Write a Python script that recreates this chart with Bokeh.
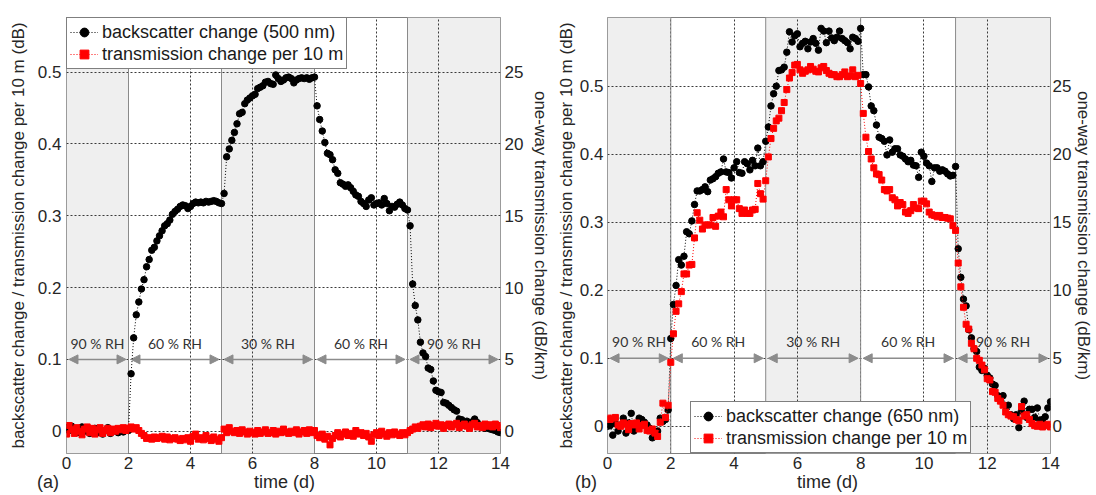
import numpy as np
from bokeh.plotting import figure
from bokeh.layouts import row
from bokeh.models import (ColumnDataSource, Range1d, LinearAxis, FixedTicker,
                          BoxAnnotation, Span, Arrow, NormalHead)
from bokeh.core.properties import value
from bokeh.embed import file_html
from bokeh.resources import INLINE

# ---------------- data ----------------
samples_per_day = 12
n_samples = 169
time_d = [i / samples_per_day for i in range(n_samples)]

rh_bounds = [0, 2, 5, 8, 11, 14]
rh_labels = ["90 % RH", "60 % RH", "30 % RH", "60 % RH", "90 % RH"]
rh_shaded = [True, False, True, False, True]

x_ticks = [0, 2, 4, 6, 8, 10, 12, 14]
y_ticks = [0, 0.1, 0.2, 0.3, 0.4, 0.5]
y2_ticks = [0, 5, 10, 15, 20, 25]
db_per_km_factor = 50  # 0.5 dB per 10 m  <->  25 dB/km

x_label = "time (d)"
y_label = "backscatter change / transmission change per 10 m (dB)"
y2_label = "one-way transmission change (dB/km)"

# panel (a): 500 nm
bs_500nm = (
    [0.005, 0.001, 0.007, 0.003, -0.002, 0.004, 0.006, 0.000, 0.005, -0.003, 0.002, 0.004, -0.002,
     0.003, -0.004, 0.001, 0.005, -0.003, 0.000, 0.002, -0.002, 0.003, -0.001, 0.002, 0.001]
    + [0.080, 0.130, 0.162, 0.180, 0.198, 0.211, 0.229, 0.239, 0.252, 0.256,
       0.265, 0.272, 0.279, 0.286, 0.289, 0.294, 0.302, 0.306, 0.309, 0.313,
       0.315, 0.314, 0.310, 0.313, 0.317, 0.319, 0.318, 0.319, 0.318, 0.320,
       0.319, 0.320, 0.321, 0.320, 0.318, 0.317]
    + [0.331, 0.382, 0.393, 0.405, 0.416, 0.428, 0.442, 0.444, 0.456, 0.461,
       0.464, 0.467, 0.469, 0.477, 0.479, 0.481, 0.486, 0.487, 0.484, 0.483,
       0.496, 0.491, 0.487, 0.489, 0.492, 0.493, 0.491, 0.485, 0.489, 0.491,
       0.492, 0.491, 0.492, 0.490, 0.492, 0.493]
    + [0.453, 0.434, 0.418, 0.402, 0.387, 0.385, 0.378, 0.364, 0.359, 0.346,
       0.344, 0.341, 0.343, 0.339, 0.334, 0.329, 0.327, 0.320, 0.317, 0.313,
       0.322, 0.325, 0.315, 0.317, 0.318, 0.315, 0.324, 0.317, 0.307, 0.313,
       0.312, 0.316, 0.319, 0.315, 0.310, 0.308]
    + [0.286, 0.205, 0.175, 0.155, 0.124, 0.109, 0.104, 0.088, 0.086, 0.070,
       0.057, 0.055, 0.054, 0.040, 0.039, 0.036, 0.033, 0.030, 0.028, 0.017,
       0.016, 0.012, 0.014, 0.011, 0.013, 0.017, 0.012, 0.008, 0.006, 0.004,
       0.005, 0.003, 0.002, 0.001, -0.001, -0.002]
)
tr_500nm = (
    [-0.004, 0.008, 0.002, -0.003, 0.005, 0.000, -0.005, 0.003, 0.006, -0.002, 0.004, -0.004, 0.002,
     0.005, -0.003, 0.001, 0.004, -0.002, 0.003, 0.000, 0.004, 0.002, 0.005, 0.001, 0.004]
    + [0.006, 0.003, 0.005, 0.001, -0.003, -0.006, -0.010, -0.009, -0.011, -0.008,
       -0.010, -0.009, -0.007, -0.011, -0.008, -0.012, -0.010, -0.009, -0.011, -0.013,
       -0.010, -0.012, -0.009, -0.014, -0.007, -0.004, -0.011, -0.009, -0.012, -0.006,
       -0.010, -0.013, -0.008, -0.011, -0.014, -0.009]
    + [0.003, -0.002, 0.005, 0.000, -0.002, 0.001, -0.003, 0.002, -0.001, -0.004,
       0.000, -0.002, -0.004, 0.001, -0.003, -0.001, 0.002, -0.003, -0.002, 0.001,
       -0.004, 0.000, -0.002, 0.003, -0.001, -0.003, 0.000, -0.002, 0.002, -0.004,
       -0.001, 0.001, -0.003, 0.002, -0.002, 0.001]
    + [-0.006, -0.009, -0.004, -0.011, -0.007, -0.019, -0.010, -0.006, -0.002, -0.008,
       -0.004, -0.001, -0.006, -0.003, -0.007, 0.001, -0.004, -0.002, -0.006, -0.003,
       -0.008, -0.014, -0.005, -0.002, -0.006, 0.000, -0.004, -0.007, -0.002, -0.005,
       -0.001, -0.004, -0.006, -0.002, -0.005, -0.002]
    + [0.001, 0.003, 0.006, 0.004, 0.007, 0.009, 0.006, 0.010, 0.005, 0.008,
       0.011, 0.007, 0.009, 0.004, 0.008, 0.010, 0.006, 0.009, 0.011, 0.005,
       0.008, 0.010, 0.007, 0.004, 0.009, 0.011, 0.006, 0.008, 0.005, 0.010,
       0.007, 0.009, 0.006, 0.010, 0.008, 0.005]
)

# panel (b): 650 nm
bs_650nm = (
    [0.000, 0.001, -0.013, 0.004, -0.007, 0.002, 0.012, -0.010, 0.005, 0.019, -0.007, -0.003, 0.012,
     0.010, 0.006, 0.002, -0.003, -0.017, -0.010, -0.007, 0.012, 0.007, 0.010, 0.024, 0.129]
    + [0.179, 0.207, 0.245, 0.237, 0.250, 0.286, 0.283, 0.302, 0.326, 0.346,
       0.346, 0.348, 0.352, 0.345, 0.362, 0.364, 0.367, 0.372, 0.374, 0.393,
       0.374, 0.373, 0.365, 0.380, 0.389, 0.373, 0.372, 0.389, 0.386, 0.377,
       0.391, 0.383, 0.409, 0.383, 0.389, 0.419]
    + [0.440, 0.471, 0.489, 0.500, 0.523, 0.524, 0.528, 0.550, 0.580, 0.565,
       0.574, 0.577, 0.558, 0.563, 0.566, 0.555, 0.565, 0.570, 0.563, 0.553,
       0.585, 0.581, 0.564, 0.581, 0.571, 0.567, 0.572, 0.581, 0.570, 0.567,
       0.564, 0.555, 0.572, 0.570, 0.566, 0.585]
    + [0.517, 0.517, 0.499, 0.471, 0.464, 0.443, 0.425, 0.423, 0.419, 0.399,
       0.421, 0.403, 0.408, 0.408, 0.399, 0.397, 0.393, 0.389, 0.391, 0.384,
       0.383, 0.366, 0.403, 0.397, 0.387, 0.383, 0.360, 0.380, 0.380, 0.375,
       0.377, 0.375, 0.371, 0.368, 0.369, 0.382]
    + [0.261, 0.219, 0.187, 0.177, 0.142, 0.130, 0.114, 0.110, 0.087, 0.082,
       0.085, 0.075, 0.071, 0.062, 0.060, 0.045, 0.039, 0.045, 0.030, 0.031,
       0.017, 0.011, 0.017, -0.002, 0.023, 0.037, 0.013, 0.025, 0.025, 0.013,
       0.027, 0.009, 0.010, 0.014, 0.027, 0.036]
)
tr_650nm = (
    [0.012, 0.010, 0.012, 0.013, 0.002, 0.000, 0.005, 0.003, -0.005, 0.004, 0.002, 0.005, -0.004,
     0.001, 0.003, -0.006, -0.007, -0.004, -0.010, -0.015, 0.006, 0.034, 0.013, 0.031, 0.094]
    + [0.136, 0.169, 0.180, 0.198, 0.224, 0.224, 0.237, 0.238, 0.277, 0.314,
       0.303, 0.290, 0.296, 0.296, 0.296, 0.307, 0.294, 0.309, 0.315, 0.308,
       0.348, 0.333, 0.324, 0.333, 0.333, 0.320, 0.313, 0.318, 0.313, 0.313,
       0.318, 0.319, 0.357, 0.342, 0.334, 0.361]
    + [0.396, 0.423, 0.438, 0.449, 0.453, 0.464, 0.476, 0.495, 0.512, 0.520,
       0.531, 0.532, 0.524, 0.519, 0.522, 0.524, 0.529, 0.525, 0.522, 0.521,
       0.527, 0.529, 0.523, 0.519, 0.517, 0.517, 0.514, 0.514, 0.517, 0.521,
       0.514, 0.515, 0.524, 0.514, 0.516, 0.504]
    + [0.460, 0.425, 0.404, 0.393, 0.380, 0.371, 0.370, 0.362, 0.348, 0.346,
       0.348, 0.336, 0.333, 0.324, 0.329, 0.326, 0.315, 0.313, 0.317, 0.326,
       0.321, 0.320, 0.331, 0.331, 0.327, 0.315, 0.311, 0.310, 0.308, 0.310,
       0.307, 0.307, 0.306, 0.305, 0.295, 0.288]
    + [0.240, 0.205, 0.175, 0.150, 0.143, 0.122, 0.114, 0.100, 0.097, 0.090,
       0.083, 0.070, 0.068, 0.051, 0.050, 0.041, 0.037, 0.031, 0.021, 0.017,
       0.015, 0.014, 0.010, 0.008, 0.029, 0.015, 0.017, 0.010, 0.004, 0.001,
       0.000, 0.003, -0.001, 0.001, 0.003, -0.001]
)

FONT = "Liberation Sans"
TICK_COLOR = "#262626"
NBSP = "\u00a0"


def make_panel(bs, tr, bs_label, tr_label, y_lo, y_hi, width, borders, stand,
               legend_loc, tag, tag_gap, rh_text_y):
    left_b, right_b, top_b, bottom_b = borders
    p = figure(width=width, height=495, x_range=Range1d(0, 14),
               y_range=Range1d(y_lo, y_hi), output_backend="svg",
               toolbar_location=None, min_border_left=left_b,
               min_border_right=right_b, min_border_top=top_b,
               min_border_bottom=bottom_b)
    p.background_fill_color = "white"
    p.border_fill_color = "white"
    p.outline_line_color = "#7f7f7f"
    p.outline_line_width = 1

    # shaded RH bands and boundaries
    for i in range(len(rh_labels)):
        if rh_shaded[i]:
            p.add_layout(BoxAnnotation(left=rh_bounds[i], right=rh_bounds[i + 1],
                                       fill_color="#efefef", fill_alpha=1.0,
                                       line_color=None, level="image"))
    for b in rh_bounds[1:-1]:
        p.add_layout(Span(location=b, dimension="height", line_color="#8a8a8a",
                          line_width=1, level="underlay"))

    # grid
    p.xgrid.ticker = FixedTicker(ticks=x_ticks)
    p.ygrid.ticker = FixedTicker(ticks=y_ticks)
    for g in (p.xgrid, p.ygrid):
        g.grid_line_color = "#3a3a3a"
        g.grid_line_dash = "2 2"
        g.grid_line_width = 1
        g.level = "underlay"

    # axes ; the panel tag shares the line of the x-axis title
    p.xaxis.ticker = FixedTicker(ticks=x_ticks)
    p.yaxis.ticker = FixedTicker(ticks=y_ticks)
    p.yaxis.major_label_overrides = {0: "0"}
    p.xaxis.axis_label = tag + NBSP * tag_gap[0] + x_label + NBSP * tag_gap[1]
    p.yaxis.axis_label = y_label

    p.extra_y_ranges = {"km": Range1d(y_lo * db_per_km_factor, y_hi * db_per_km_factor)}
    ax2 = LinearAxis(y_range_name="km", ticker=FixedTicker(ticks=y2_ticks),
                     axis_label=y2_label)
    p.add_layout(ax2, "right")

    for ax in (p.xaxis[0], p.yaxis[0], ax2):
        ax.axis_line_color = None
        ax.major_tick_line_color = None
        ax.minor_tick_line_color = None
        ax.major_tick_out = 0
        ax.major_tick_in = 0
        ax.minor_tick_out = 0
        ax.minor_tick_in = 0
        ax.major_label_text_font = FONT
        ax.major_label_text_font_size = "17px"
        ax.major_label_text_color = TICK_COLOR
        ax.axis_label_text_font = FONT
        ax.axis_label_text_font_size = "17px"
        ax.axis_label_text_font_style = "normal"
        ax.axis_label_text_color = TICK_COLOR
    p.xaxis.major_label_text_font_size = "17px"
    p.xaxis.axis_label_text_font_size = "18px"
    (ls_l, as_l, ls_r, as_r) = stand
    p.xaxis.major_label_standoff = 3
    p.xaxis.axis_label_standoff = 0
    p.yaxis.major_label_standoff = ls_l
    p.yaxis.axis_label_standoff = as_l
    ax2.major_label_standoff = ls_r
    ax2.axis_label_standoff = as_r

    # RH arrows + labels
    arr_src = ColumnDataSource(dict(
        xs=[b + 0.08 for b in rh_bounds[:-1]],
        xe=[b - 0.08 for b in rh_bounds[1:]],
        ys=[0.1] * len(rh_labels), ye=[0.1] * len(rh_labels)))
    head = dict(size=9, fill_color="#8c8c8c", line_color="#8c8c8c")
    p.add_layout(Arrow(start=NormalHead(**head), end=NormalHead(**head),
                       x_start="xs", y_start="ys", x_end="xe", y_end="ye",
                       source=arr_src, line_color="#8c8c8c", line_width=1.5,
                       level="underlay"))
    txt_src = ColumnDataSource(dict(
        x=[(a + b) / 2 for a, b in zip(rh_bounds[:-1], rh_bounds[1:])],
        y=[rh_text_y] * len(rh_labels), t=rh_labels))
    p.text(x="x", y="y", text="t", source=txt_src, text_font=value("Lato"),
           text_font_size="14px", text_align="center", text_baseline="middle",
           text_color="#333333")

    # data
    src = ColumnDataSource(dict(t=time_d, bs=bs, tr=tr))
    p.line("t", "bs", source=src, line_color="black", line_dash="1 2",
           line_width=1, legend_label=bs_label)
    p.scatter("t", "bs", source=src, marker="circle", size=6.5,
              fill_color="black", line_color="black", legend_label=bs_label)
    p.line("t", "tr", source=src, line_color="red", line_dash="1 2",
           line_width=1, legend_label=tr_label)
    p.scatter("t", "tr", source=src, marker="square", size=6,
              fill_color="red", line_color="red", legend_label=tr_label)

    lg = p.legend[0]
    lg.location = legend_loc
    lg.margin = 0
    lg.padding = 3
    lg.spacing = 0
    lg.glyph_width = 28
    lg.glyph_height = 22
    lg.label_height = 22
    lg.label_standoff = 4
    lg.label_text_font = FONT
    lg.label_text_font_size = "18px"
    lg.label_text_color = "#1a1a1a"
    lg.border_line_color = "black"
    lg.border_line_width = 1
    lg.background_fill_alpha = 1.0
    return p


p1 = make_panel(bs_500nm, tr_500nm, "backscatter change (500 nm)",
                "transmission change per 10 m", -0.031, 0.576, 553,
                (66, 50, 17, 41), (5, 7, 4, 5), "top_left", "(a)", (39, 43), 0.122)
p2 = make_panel(bs_650nm, tr_650nm, "backscatter change (650 nm)",
                "transmission change per 10 m", -0.040, 0.601, 543,
                (53, 45, 10, 42), (4, 1, 2, 0), (83, 0), "(b)", (40, 45), 0.125)

layout = row(p1, p2, spacing=0)
open("out.html", "w").write(file_html(layout, INLINE))
